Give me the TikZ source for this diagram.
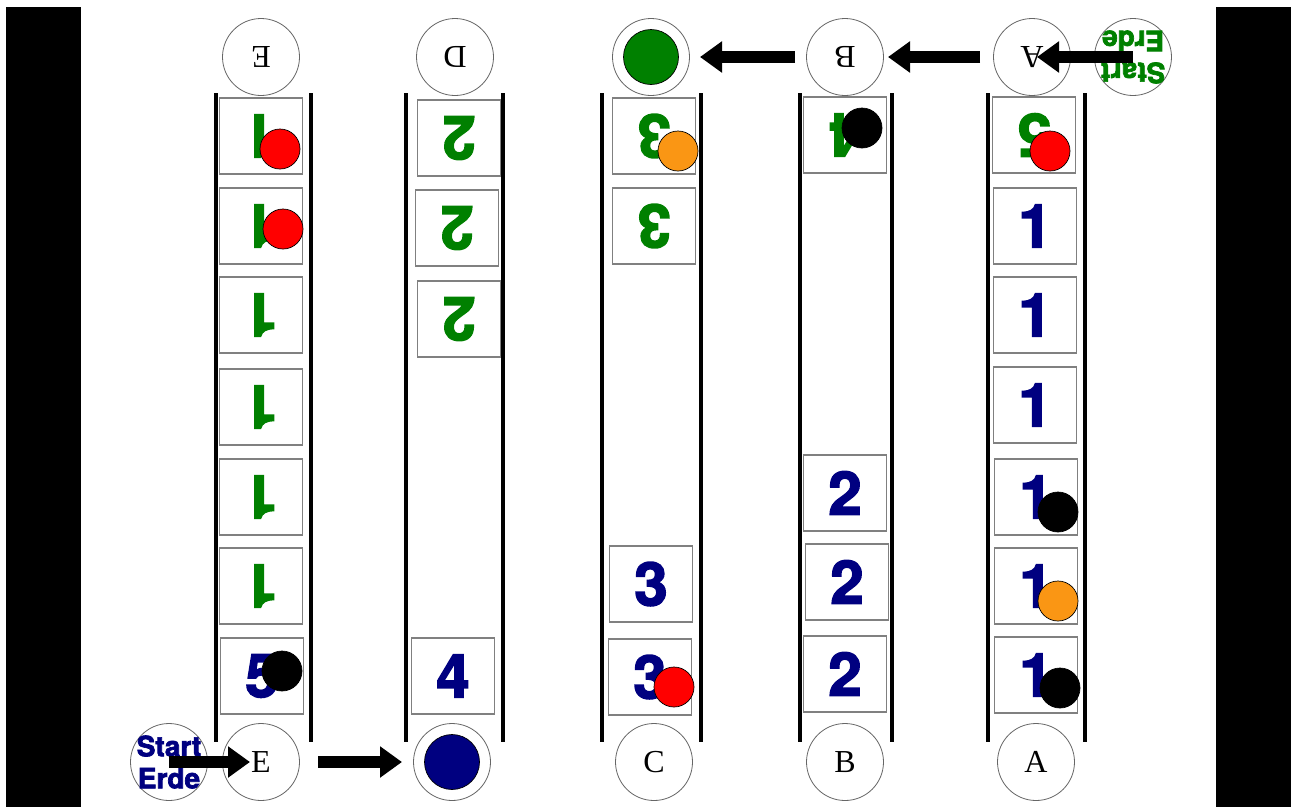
\documentclass[tikz,border=0pt]{standalone}
\usepackage{fontspec}
\setmainfont{Liberation Serif}
\newfontfamily\numfont[BoldFeatures={FakeBold=2.5}]{TeX Gyre Heros}
\usetikzlibrary{arrows.meta}
\definecolor{navy}{RGB}{0,0,128}
\definecolor{leafgreen}{RGB}{0,128,0}
\definecolor{pawnorange}{RGB}{250,150,20}

\begin{document}
\begin{tikzpicture}[x=1pt,y=-1pt,
    rail/.style={line width=4pt},
    field/.style={draw=gray,line width=1.2pt,minimum width=83pt,minimum height=76pt,inner sep=0pt,
        font=\numfont\bfseries\fontsize{60}{60}\selectfont},
    house/.style={circle,draw=gray!80!black,line width=0.8pt,minimum size=77pt,inner sep=0pt,
        font=\fontsize{32}{32}\selectfont},
    starttext/.style={align=center,inner sep=0pt,font=\numfont\bfseries\fontsize{28}{32}\selectfont},
    pawn/.style={circle,draw=black,line width=0.7pt,minimum size=40pt,inner sep=0pt},
    move/.style={line width=12pt,-{Triangle[length=22pt,width=30pt]}}]
    \useasboundingbox (0,0) rectangle (1291,807);
    \fill[white] (0,0) rectangle (1291,807);
    \fill (6,7) rectangle (81,807);
    \fill (1216,7) rectangle (1291,807);
    % the lanes
    \foreach \l in {216,311,406,503,602,701,800,892,988,1085}
        \draw[rail] (\l,93) -- (\l,742);
    % fields: name/x/y/number/colour/rotation
    \foreach \n/\x/\y/\d/\c/\r in {e1/261/136/1/leafgreen/180, e2/261/226/1/leafgreen/180,
        e3/261/315/1/leafgreen/180, e4/261/407/1/leafgreen/180, e5/261/497/1/leafgreen/180,
        e6/261/586/1/leafgreen/180, e7/262/676/5/navy/0,
        d1/459/138/2/leafgreen/180, d2/457/228/2/leafgreen/180, d3/459/319/2/leafgreen/180,
        d4/453/676/4/navy/0,
        c1/654/136/3/leafgreen/180, c2/654/226/3/leafgreen/180, c3/651/584/3/navy/0, c4/650/677/3/navy/0,
        b1/845/135/4/leafgreen/180, b2/845/493/2/navy/0, b3/847/582/2/navy/0, b4/845/674/2/navy/0,
        a1/1034/135/5/leafgreen/180, a2/1035/226/1/navy/0, a3/1035/315/1/navy/0, a4/1035/405/1/navy/0,
        a5/1036/497/1/navy/0, a6/1036/586/1/navy/0, a7/1036/675/1/navy/0}
        \node[field,text=\c,rotate=\r] (\n) at (\x,\y) {\d};
    % pawns
    \foreach \n/\c/\x/\y in {e1/red/280/149, e2/red/283/229, e7/black/282/671,
        c1/pawnorange/678/151, c4/red/674/687, b1/black/862/128,
        a1/red/1050/151, a5/black/1058/512, a6/pawnorange/1058/601, a7/black/1060/688}
        \node[pawn,fill=\c] (p\n) at (\x,\y) {};
    % houses
    \foreach \n/\x/\l in {Et/261/E, Dt/455/D, Bt/845/B, At/1032/A}
        \node[house,rotate=180] (\n) at (\x,57) {\l};
    \foreach \n/\x/\l in {Eb/261/E, Cb/654/C, Bb/845/B, Ab/1036/A}
        \node[house] (\n) at (\x,762) {\l};
    \node[house] (Cg) at (651,57) {};
    \node[pawn,fill=leafgreen,minimum size=55pt] (Cgin) at (Cg) {};
    \node[house] (Dg) at (452,762) {};
    \node[pawn,fill=navy,minimum size=55pt] (Dgin) at (Dg) {};
    \node[house] (St) at (1133,57) {};
    \node[starttext,text=leafgreen,rotate=180] (Sttext) at (St) {Start\\Erde};
    \node[house] (Sb) at (169,762) {};
    \node[starttext,text=navy] (Sbtext) at (Sb) {Start\\Erde};
    % moves
    \draw[move,shorten <=50pt,shorten >=49pt] (Bt.center) -- (Cg.center);
    \draw[move,shorten <=52pt,shorten >=43pt] (At.center) -- (Bt.center);
    \draw[move,shorten >=5pt] (St.center) -- (At.center);
    \draw[move,shorten >=11pt] (Sb.center) -- (Eb.center);
    \draw[move,shorten <=57pt,shorten >=50pt] (Eb.center) -- (Dg.center);
\end{tikzpicture}
\end{document}
